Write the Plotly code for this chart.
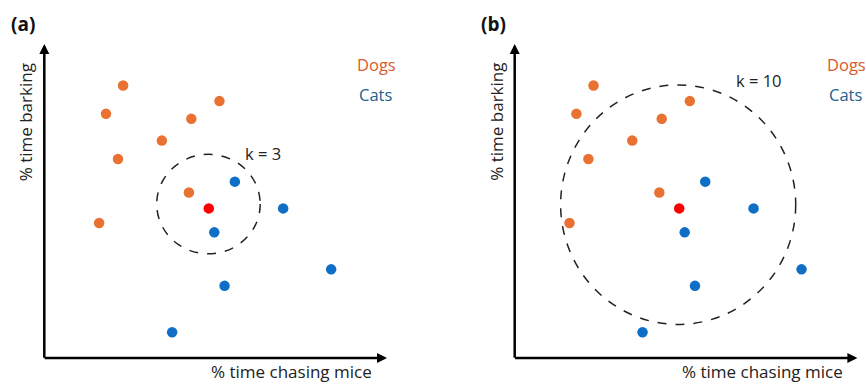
import plotly.graph_objects as go

W, H = 866, 385

# ---- data (arbitrary 0-100 units) ----
dogs_x = [23.0, 18.0, 51.1, 42.9, 34.3, 21.5, 42.2, 16.0]
dogs_y = [87.6, 78.5, 82.6, 76.9, 69.9, 64.0, 53.2, 43.4]
cats_x = [55.6, 69.7, 49.6, 83.7, 52.6, 37.3]
cats_y = [56.7, 48.1, 40.4, 28.5, 23.2, 8.3]
query_x = [48.0]
query_y = [48.1]

panels = ["(a)", "(b)"]
k_labels = ["k = 3", "k = 10"]
circle_cx = [47.9, 47.7]
circle_cy = [49.5, 49.3]
circle_rx = [15.1, 34.3]
circle_ry = [16.0, 38.5]
k_label_x = [63.8, 71.3]
k_label_y = [65.6, 89.1]

x_title = "% time chasing mice"
y_title = "% time barking"

ORANGE = "#E97132"
BLUE = "#0F6FC6"
RED = "#FF0000"
DOG_TXT = "#D95A2B"
CAT_TXT = "#215F8E"
FONT = "Open Sans, Lato, sans-serif"

# pixel layout (page pixels)
ax_left = [44.3, 514.7]
ax_w = 342.7
ax_bottom = 358.0
ax_top = 47.0
arrow_top = 44.0

fig = go.Figure()

def px2paper_x(px):
    return px / W

def px2paper_y(py):
    return (H - py) / H

def text_ann(x, y, text, size, color, xref="paper", yref="paper", angle=0):
    fig.add_annotation(x=x, y=y, xref=xref, yref=yref, text=text, textangle=angle,
                       showarrow=False, xanchor="center", yanchor="middle",
                       font=dict(family=FONT, size=size, color=color))

for i in range(2):
    xa = "x" if i == 0 else "x2"
    ya = "y" if i == 0 else "y2"
    fig.add_trace(go.Scatter(x=dogs_x, y=dogs_y, mode="markers", xaxis=xa, yaxis=ya,
                             marker=dict(color=ORANGE, size=10.5), showlegend=False))
    fig.add_trace(go.Scatter(x=cats_x, y=cats_y, mode="markers", xaxis=xa, yaxis=ya,
                             marker=dict(color=BLUE, size=10.5), showlegend=False))
    fig.add_trace(go.Scatter(x=query_x, y=query_y, mode="markers", xaxis=xa, yaxis=ya,
                             marker=dict(color=RED, size=10.5), showlegend=False))

    fig.add_shape(type="circle", xref=xa, yref=ya,
                  x0=circle_cx[i] - circle_rx[i], x1=circle_cx[i] + circle_rx[i],
                  y0=circle_cy[i] - circle_ry[i], y1=circle_cy[i] + circle_ry[i],
                  line=dict(color="#222222", width=1.5, dash="dash"))

    text_ann(k_label_x[i], k_label_y[i], k_labels[i], 16.5, "#222222", xa, ya)
    text_ann(96.8, 94.5, "Dogs", 16.5, DOG_TXT, xa, ya)
    text_ann(96.5, 84.6, "Cats", 16.5, CAT_TXT, xa, ya)

    L = ax_left[i]
    # vertical axis arrow
    fig.add_annotation(x=px2paper_x(L), y=px2paper_y(arrow_top), xref="paper", yref="paper",
                       ax=0, ay=ax_bottom - arrow_top + 1.2, axref="pixel", ayref="pixel",
                       showarrow=True, arrowhead=2, arrowsize=0.8, arrowwidth=2.5,
                       arrowcolor="black", text="", standoff=0)
    # horizontal axis arrow
    fig.add_annotation(x=px2paper_x(L + ax_w), y=px2paper_y(ax_bottom), xref="paper", yref="paper",
                       ax=-(ax_w + 1.2), ay=0, axref="pixel", ayref="pixel",
                       showarrow=True, arrowhead=2, arrowsize=0.8, arrowwidth=2.5,
                       arrowcolor="black", text="", standoff=0)
    # titles
    text_ann(px2paper_x(L - 19), px2paper_y(122), y_title, 17, "#222222", angle=-90)
    text_ann(px2paper_x(L + 247.5), px2paper_y(371), x_title, 17, "#222222")
    text_ann(px2paper_x(L - 21), px2paper_y(24), "<b>" + panels[i] + "</b>", 19, "#111111")

ydom = [px2paper_y(ax_bottom), px2paper_y(ax_top)]
axis_common = dict(visible=False, range=[0, 100], fixedrange=True)
fig.update_layout(
    width=W, height=H, margin=dict(l=0, r=0, t=0, b=0),
    paper_bgcolor="white", plot_bgcolor="white",
    xaxis=dict(domain=[px2paper_x(ax_left[0]), px2paper_x(ax_left[0] + ax_w)], anchor="y", **axis_common),
    yaxis=dict(domain=ydom, anchor="x", **axis_common),
    xaxis2=dict(domain=[px2paper_x(ax_left[1]), px2paper_x(ax_left[1] + ax_w)], anchor="y2", **axis_common),
    yaxis2=dict(domain=ydom, anchor="x2", **axis_common),
)

fig.write_html(
    "out.html",
    config={"displayModeBar": False},
    post_script="document.body.style.margin='0';document.body.style.overflow='hidden';",
)
